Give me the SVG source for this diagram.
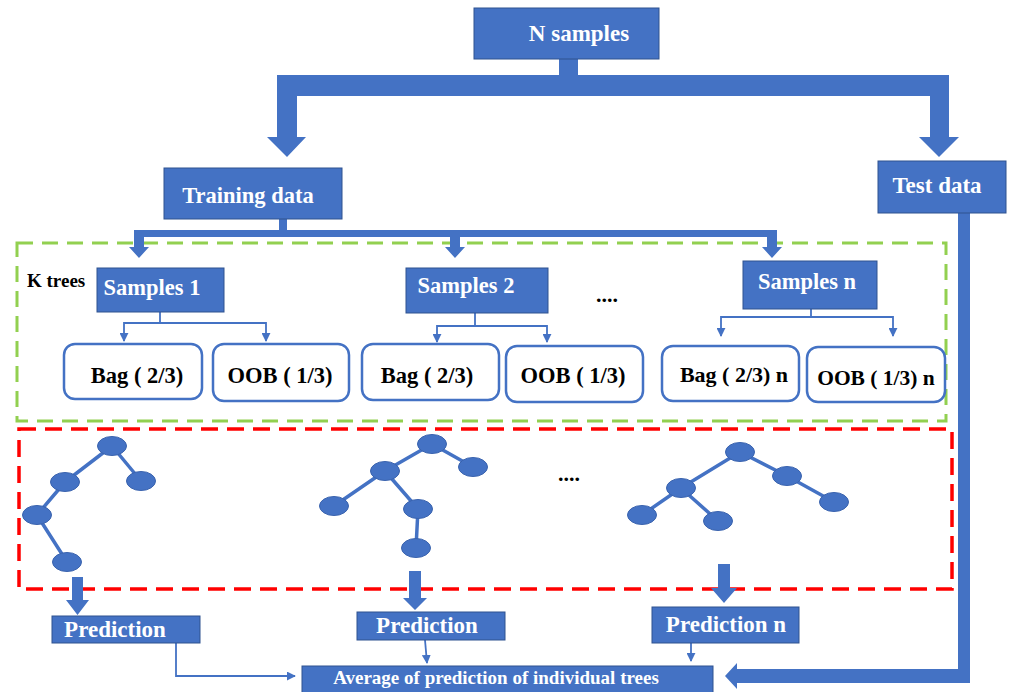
<svg xmlns="http://www.w3.org/2000/svg" width="1013" height="692" viewBox="0 0 1013 692">
  <style>
    .box { fill: #4472C4; stroke: #2F528F; stroke-width: 1; }
    .rbox { fill: #FFFFFF; stroke: #4472C4; stroke-width: 2.5; }
    .wt { font-family: "Liberation Serif", "Times New Roman", serif; font-weight: bold; fill: #FFFFFF; text-anchor: middle; }
    .bt { font-family: "Liberation Serif", "Times New Roman", serif; font-weight: bold; fill: #000000; text-anchor: middle; }
    .thin { fill: none; stroke: #4472C4; stroke-width: 1.8; }
    .block { fill: #4472C4; }
    .edge { stroke: #4472C4; stroke-width: 3.5; stroke-linecap: round; }
    .leaf { fill: #4472C4; stroke: #3A63AE; stroke-width: 1; }
  </style>
  <defs>
    <marker id="tipS" viewBox="0 0 10 10" refX="9" refY="5" markerWidth="9" markerHeight="9" orient="auto" markerUnits="userSpaceOnUse">
      <path d="M0,0 L10,5 L0,10 z" fill="#4472C4"/>
    </marker>
  </defs>

  <!-- dashed frames -->
  <rect x="17" y="243" width="929" height="178" fill="none" stroke="#92D050" stroke-width="3" stroke-dasharray="16 9"/>
  <rect x="19" y="429" width="933" height="160" fill="none" stroke="#FF0000" stroke-width="3.5" stroke-dasharray="17 9"/>

  <!-- connectors -->
  <g id="connectors">
    <!-- split of N samples into training and test -->
    <path class="block" d="M559,59 H578 V75 H949 V137 H959 L939,157 L919,137 H930 V96 H297 V137 H306 L287,157 L267,137 H277 V75 H559 Z"/>
    <!-- training data fan-out -->
    <path class="block" d="M279,219 H287 V230 H777 V247 H782 L772,258 L762,247 H767 V237 H460 V247 H465 L455,258 L445,247 H450 V237 H144 V247 H149 L139,258 L129,247 H134 V230 H279 Z"/>
    <!-- test data to average -->
    <path class="block" d="M958,213 H970 V683 H737 V689 L725,676 L737,663 V669 H958 Z"/>
    <!-- samples to bag / oob -->
    <path class="thin" d="M160,312 V323 H124 V341" marker-end="url(#tipS)"/>
    <path class="thin" d="M160,323 H266 V341" marker-end="url(#tipS)"/>
    <path class="thin" d="M475,313 V326 H437 V342" marker-end="url(#tipS)"/>
    <path class="thin" d="M475,326 H547 V342" marker-end="url(#tipS)"/>
    <path class="thin" d="M811,309 V317 H721 V336" marker-end="url(#tipS)"/>
    <path class="thin" d="M811,317 H893 V336" marker-end="url(#tipS)"/>
    <!-- trees to predictions -->
    <path class="block" d="M72,577 H83 V600 H89 L77.5,615 L66,600 H72 Z"/>
    <path class="block" d="M409,571 H421 V598 H427 L415,610 L403,598 H409 Z"/>
    <path class="block" d="M718,564 H730 V588 H737 L724,603 L711,588 H718 Z"/>
    <!-- predictions to average -->
    <path class="thin" d="M176,643 V676 H295" marker-end="url(#tipS)"/>
    <path class="thin" d="M425,640 L427,663" marker-end="url(#tipS)"/>
    <path class="thin" d="M691,643 V661" marker-end="url(#tipS)"/>
  </g>

  <g id="n-samples">
    <rect class="box" x="474" y="8" width="185" height="51"/>
    <text class="wt" x="579" y="41" font-size="23">N samples</text>
  </g>
  <g id="training-data">
    <rect class="box" x="164" y="168" width="178" height="51"/>
    <text class="wt" x="248" y="203" font-size="22.5">Training data</text>
  </g>
  <g id="test-data">
    <rect class="box" x="878" y="161" width="128" height="52"/>
    <text class="wt" x="937" y="193" font-size="23">Test data</text>
  </g>

  <text class="bt" x="27" y="287" font-size="19" style="text-anchor:start">K trees</text>

  <g id="samples-1">
    <rect class="box" x="97" y="268" width="127" height="44"/>
    <text class="wt" x="152" y="295" font-size="22.5">Samples 1</text>
  </g>
  <g id="samples-2">
    <rect class="box" x="406" y="268" width="142" height="45"/>
    <text class="wt" x="466" y="293" font-size="22.5">Samples 2</text>
  </g>
  <g id="samples-n">
    <rect class="box" x="743" y="261" width="134" height="48"/>
    <text class="wt" x="807" y="289" font-size="22.5">Samples n</text>
  </g>
  <text class="bt" x="607" y="302" font-size="22">....</text>

  <g id="bag-1">
    <rect class="rbox" x="64" y="344" width="138" height="55" rx="11"/>
    <text class="bt" x="137" y="383" font-size="22.5">Bag ( 2/3)</text>
  </g>
  <g id="oob-1">
    <rect class="rbox" x="213" y="344" width="136" height="57" rx="11"/>
    <text class="bt" x="280" y="383" font-size="22.5">OOB ( 1/3)</text>
  </g>
  <g id="bag-2">
    <rect class="rbox" x="362" y="344" width="137" height="56" rx="11"/>
    <text class="bt" x="427" y="383" font-size="22.5">Bag ( 2/3)</text>
  </g>
  <g id="oob-2">
    <rect class="rbox" x="506" y="346" width="137" height="56" rx="11"/>
    <text class="bt" x="573" y="383" font-size="22.5">OOB ( 1/3)</text>
  </g>
  <g id="bag-n">
    <rect class="rbox" x="662" y="346" width="137" height="55" rx="11"/>
    <text class="bt" x="734" y="382" font-size="22">Bag ( 2/3) n</text>
  </g>
  <g id="oob-n">
    <rect class="rbox" x="807" y="347" width="138" height="55" rx="11"/>
    <text class="bt" x="876" y="385" font-size="21.5">OOB ( 1/3) n</text>
  </g>

  <!-- decision trees -->
  <g id="tree-1">
    <line class="edge" x1="112" y1="446" x2="65" y2="482"/>
    <line class="edge" x1="112" y1="446" x2="141" y2="481"/>
    <line class="edge" x1="65" y1="482" x2="37" y2="515"/>
    <line class="edge" x1="37" y1="515" x2="67" y2="562"/>
    <ellipse class="leaf" cx="112" cy="446" rx="14.5" ry="9.5"/>
    <ellipse class="leaf" cx="65" cy="482" rx="14.5" ry="9.5"/>
    <ellipse class="leaf" cx="141" cy="481" rx="14.5" ry="9.5"/>
    <ellipse class="leaf" cx="37" cy="515" rx="14.5" ry="9.5"/>
    <ellipse class="leaf" cx="67" cy="562" rx="14.5" ry="9.5"/>
  </g>
  <g id="tree-2">
    <line class="edge" x1="432" y1="444" x2="473" y2="467"/>
    <line class="edge" x1="432" y1="444" x2="385" y2="471"/>
    <line class="edge" x1="385" y1="471" x2="334" y2="506"/>
    <line class="edge" x1="385" y1="471" x2="418" y2="509"/>
    <line class="edge" x1="418" y1="509" x2="416" y2="548"/>
    <ellipse class="leaf" cx="432" cy="444" rx="14.5" ry="9.5"/>
    <ellipse class="leaf" cx="473" cy="467" rx="14.5" ry="9.5"/>
    <ellipse class="leaf" cx="385" cy="471" rx="14.5" ry="9.5"/>
    <ellipse class="leaf" cx="334" cy="506" rx="14.5" ry="9.5"/>
    <ellipse class="leaf" cx="418" cy="509" rx="14.5" ry="9.5"/>
    <ellipse class="leaf" cx="416" cy="548" rx="14.5" ry="9.5"/>
  </g>
  <text class="bt" x="569" y="481" font-size="22">....</text>
  <g id="tree-n">
    <line class="edge" x1="740" y1="452" x2="787" y2="476"/>
    <line class="edge" x1="787" y1="476" x2="834" y2="502"/>
    <line class="edge" x1="740" y1="452" x2="681" y2="488"/>
    <line class="edge" x1="681" y1="488" x2="642" y2="515"/>
    <line class="edge" x1="681" y1="488" x2="718" y2="521"/>
    <ellipse class="leaf" cx="740" cy="452" rx="14.5" ry="9.5"/>
    <ellipse class="leaf" cx="787" cy="476" rx="14.5" ry="9.5"/>
    <ellipse class="leaf" cx="834" cy="502" rx="14.5" ry="9.5"/>
    <ellipse class="leaf" cx="681" cy="488" rx="14.5" ry="9.5"/>
    <ellipse class="leaf" cx="642" cy="515" rx="14.5" ry="9.5"/>
    <ellipse class="leaf" cx="718" cy="521" rx="14.5" ry="9.5"/>
  </g>

  <g id="prediction-1">
    <rect class="box" x="52" y="616" width="148" height="27"/>
    <text class="wt" x="115" y="637" font-size="23">Prediction</text>
  </g>
  <g id="prediction-2">
    <rect class="box" x="357" y="612" width="148" height="28"/>
    <text class="wt" x="427" y="633" font-size="23">Prediction</text>
  </g>
  <g id="prediction-n">
    <rect class="box" x="652" y="607" width="147" height="36"/>
    <text class="wt" x="726" y="632" font-size="23">Prediction n</text>
  </g>
  <g id="average">
    <rect class="box" x="302" y="666" width="411" height="27"/>
    <text class="wt" x="496" y="684" font-size="19">Average of prediction of individual trees</text>
  </g>
</svg>
